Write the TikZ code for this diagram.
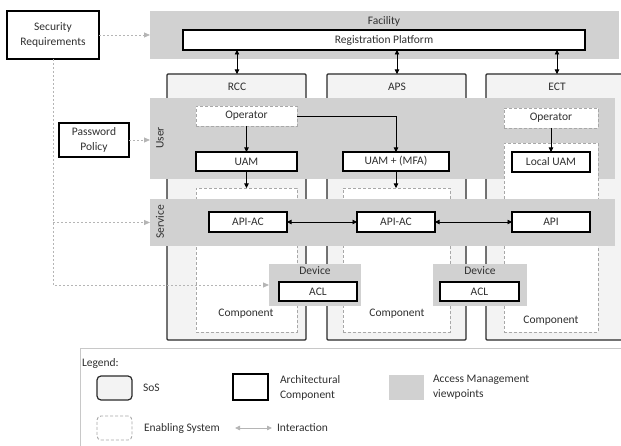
\documentclass[tikz,border=0pt]{standalone}
\usepackage{fontspec}
\setmainfont{Carlito}
\usetikzlibrary{arrows.meta}

\definecolor{band}{HTML}{D1D1D1}
\definecolor{sosfill}{HTML}{F3F3F3}
\definecolor{frame}{HTML}{2A2A2A}
\definecolor{dashc}{HTML}{A8A8A8}
\definecolor{dotc}{HTML}{B5B5B5}
\definecolor{txt}{HTML}{303030}
\definecolor{legframe}{HTML}{C8C8C8}

\tikzset{
  base/.style={inner sep=0pt, outer sep=0pt, font=\fontsize{11.5}{15}\selectfont, text=txt, align=center},
  sos/.style={base, draw=frame, fill=sosfill, line width=1.2pt, rounded corners=1pt},
  viewpoint/.style={base, fill=band},
  archbox/.style={base, draw=black, fill=white, line width=1.2pt},
  enabling/.style={base, draw=dashc, fill=white, dash pattern=on 3pt off 2pt, line width=0.9pt},
  legendframe/.style={base, draw=legframe, line width=0.9pt},
  lbl/.style={base},
  link/.style={draw=black, line width=0.6pt, -{Triangle[length=4.5pt,width=4.5pt]}},
  biarrow/.style={draw=black, line width=0.6pt, {Triangle[length=4.5pt,width=4.5pt]}-{Triangle[length=4.5pt,width=4.5pt]}},
  trace/.style={draw=dotc, line width=0.8pt, dash pattern=on 2pt off 2pt, -{Triangle[length=6pt,width=5pt]}},
  legarrow/.style={draw=dotc, line width=0.8pt, {Triangle[length=5pt,width=4.5pt]}-{Triangle[length=5pt,width=4.5pt]}},
}

% \rectnode{name}{x1}{y1}{x2}{y2}{style}{text}: box given by its corners
\newcommand\rectnode[7]{\node[#6, minimum width={(#4)-(#2)}, minimum height={(#5)-(#3)}] (#1) at ({((#2)+(#4))/2},{((#3)+(#5))/2}) {#7};}

\begin{document}
\begin{tikzpicture}[x=1pt, y=-1pt]
\useasboundingbox (0,0) rectangle (621,446);
\clip (0,0) rectangle (621,446);

% Facility viewpoint
\rectnode{facility}{150}{11}{619}{59}{viewpoint}{}
\node[lbl] (facilitylbl) at (384,21) {Facility};
\rectnode{regplat}{183}{30}{585}{50}{archbox}{Registration Platform}

% Systems of the SoS
\rectnode{rcc}{167}{74}{306}{340}{sos}{}
\rectnode{aps}{327}{74}{466}{340}{sos}{}
\rectnode{ect}{486}{74}{628}{340}{sos}{}
\node[lbl] (rcclbl) at (237,87) {RCC};
\node[lbl] (apslbl) at (397,87) {APS};
\node[lbl] (ectlbl) at (557,87) {ECT};

% User viewpoint
\rectnode{user}{150}{98}{615}{179}{viewpoint}{}
\node[lbl, rotate=90] (userlbl) at (160,138) {User};

% Enabling systems
\rectnode{rccen}{196}{188}{297}{332}{enabling}{}
\rectnode{apsen}{343}{188}{450}{332}{enabling}{}
\rectnode{ecten}{504}{143}{598}{332}{enabling}{}
\rectnode{oprcc}{196}{106}{297}{126}{enabling}{Operator}
\rectnode{opect}{504}{108}{598}{128}{enabling}{Operator}

% Service viewpoint
\rectnode{service}{150}{199}{615}{246}{viewpoint}{}
\node[lbl, rotate=90] (servicelbl) at (160,222) {Service};

% Device viewpoints
\rectnode{devrcc}{269}{264}{361}{306}{viewpoint}{}
\node[lbl] (devrcclbl) at (315,271) {Device};
\rectnode{devaps}{433}{264}{527}{306}{viewpoint}{}
\node[lbl] (devapslbl) at (480,271) {Device};

\node[lbl] (comprcc) at (246,314) {Component};
\node[lbl] (compaps) at (397,314) {Component};
\node[lbl] (compect) at (551,321) {Component};

% Architectural components
\rectnode{uam}{196}{152}{297}{171}{archbox}{UAM}
\rectnode{uammfa}{343}{152}{449}{171}{archbox}{UAM + (MFA)}
\rectnode{localuam}{512}{152}{590}{172}{archbox}{Local UAM}
\rectnode{apiacr}{209}{212}{287}{232}{archbox}{API-AC}
\rectnode{apiaca}{357}{212}{435}{232}{archbox}{API-AC}
\rectnode{api}{512}{212}{590}{232}{archbox}{API}
\rectnode{aclr}{279}{282}{357}{301}{archbox}{ACL}
\rectnode{acla}{440}{282}{519}{301}{archbox}{ACL}

% Requirements
\rectnode{secreq}{7}{11}{99}{59}{archbox}{Security\\Requirements}
\rectnode{pwpol}{59}{123}{129}{157}{archbox}{Password\\Policy}

% Interactions
\draw[biarrow] (rcclbl.center |- regplat.south) -- (rcclbl.center |- rcc.north);
\draw[biarrow] (apslbl.center |- regplat.south) -- (apslbl.center |- aps.north);
\draw[biarrow] (ectlbl.center |- regplat.south) -- (ectlbl.center |- ect.north);
\draw[link] (oprcc.south) -- (uam.north);
\draw[link] (uam.south) -- (rccen.north);
\draw[link] (oprcc.east) -| (uammfa.north);
\draw[link] (uammfa.south) -- (uammfa.south |- apsen.north);
\draw[link] (opect.south -| localuam.north) -- (localuam.north);
\draw[biarrow] (apiacr.east) -- (apiaca.west);
\draw[biarrow] (apiaca.east) -- (api.west);

% Requirement traces
\draw[trace] (secreq.east) -- (facility.west |- secreq.east);
\draw[trace] (secreq.south) |- (devrcc.west);
\draw[trace] (secreq.south |- service.west) -- (service.west);
\draw[trace] (pwpol.east) -- (pwpol.east -| user.west);

% Legend
\rectnode{legend}{80}{348}{640}{470}{legendframe}{}
\node[lbl, anchor=west] (legendlbl) at (82,363) {Legend:};
\rectnode{legsos}{97}{376}{132}{400}{sos, rounded corners=4pt}{}
\node[lbl, anchor=west] (legsoslbl) at (143,388) {SoS};
\rectnode{legarch}{233}{374}{268}{400}{archbox}{}
\node[lbl, anchor=west, align=left] (legarchlbl) at (280,387.5) {Architectural\\Component};
\rectnode{legview}{389}{375}{424}{400}{viewpoint}{}
\node[lbl, anchor=west, align=left] (legviewlbl) at (433,387.5) {Access Management\\viewpoints};
\rectnode{legen}{97}{416}{132}{440}{enabling, rounded corners=4pt}{}
\node[lbl, anchor=west] (legenlbl) at (144,428) {Enabling System};
\coordinate (legia) at (235,428);
\coordinate (legib) at (272,428);
\draw[legarrow] (legia) -- (legib);
\node[lbl, anchor=west] (leginlbl) at (277,428) {Interaction};
\end{tikzpicture}
\end{document}
